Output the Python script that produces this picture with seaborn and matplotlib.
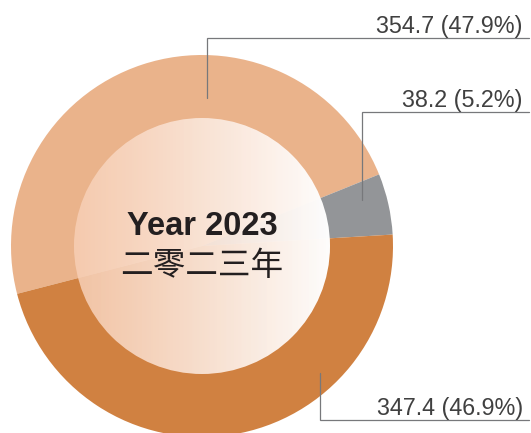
import numpy as np
import matplotlib
matplotlib.use("Agg")
import matplotlib.pyplot as plt
import seaborn as sns
from matplotlib.patches import Circle

labels = ["354.7 (47.9%)", "38.2 (5.2%)", "347.4 (46.9%)"]
values = [354.7, 38.2, 347.4]
percents = [47.9, 5.2, 46.9]
colors = ["#EAB38B", "#939598", "#D08141"]
title_en = "Year 2023"
title_zh = "二零二三年"

sns.set_theme(style="white")
plt.rcParams["font.family"] = ["Liberation Sans", "Noto Sans CJK TC", "DejaVu Sans"]

W, H = 531, 433
fig = plt.figure(figsize=(W / 100, H / 100), dpi=100)
ax = fig.add_axes([0, 0, 1, 1])

# ring geometry in pixel units (y measured upward)
cx, cy = 202, H - 246
r_out, r_in = 191, 128

# full pie, clockwise from the left so the grey slice sits just above 3 o'clock
ax.pie(values, colors=colors, startangle=194.5, counterclock=False,
       radius=r_out, center=(cx, cy), wedgeprops=dict(linewidth=0))

# translucent gradient disc in the middle
n = 256
t = np.linspace(0, 1, n)
left = np.array([247, 206, 180]) / 255
right = np.array([255, 255, 255]) / 255
rgb = left[None, :] * (1 - t[:, None]) + right[None, :] * t[:, None]
alpha = 0.87 + 0.12 * t
img = np.zeros((2, n, 4))
img[:, :, :3] = rgb[None, :, :]
img[:, :, 3] = alpha[None, :]
disc = Circle((cx, cy), r_in, transform=ax.transData)
im = ax.imshow(img, extent=(cx - r_in, cx + r_in, cy - r_in, cy + r_in),
               interpolation="bilinear", zorder=3)
im.set_clip_path(disc)

ax.text(cx, H - 235, title_en, ha="center", va="baseline", fontsize=23.5,
        fontweight="bold", color="#231F20", zorder=5)
ax.text(cx, H - 266, title_zh, ha="center", va="center", fontsize=23.5,
        color="#231F20", family=["Noto Sans CJK TC", "DejaVu Sans"], zorder=5)

# leader lines and value labels
line_col = "#77787B"
anchors = [(207, 98, 38), (362, 200, 112), (320, 373, 420)]
text_base = [33, 107, 415]
for lab, (x0, y0, yl), yb in zip(labels, anchors, text_base):
    ax.plot([x0, x0, 529], [H - y0, H - yl, H - yl], color=line_col, lw=0.9,
            solid_joinstyle="miter", zorder=6)
    ax.text(523, H - yb, lab, ha="right", va="baseline", fontsize=16.8,
            color="#404040", zorder=6)

ax.set_xlim(0, W)
ax.set_ylim(0, H)
ax.set_aspect("equal")
ax.axis("off")

fig.savefig("out.png", dpi=100)
